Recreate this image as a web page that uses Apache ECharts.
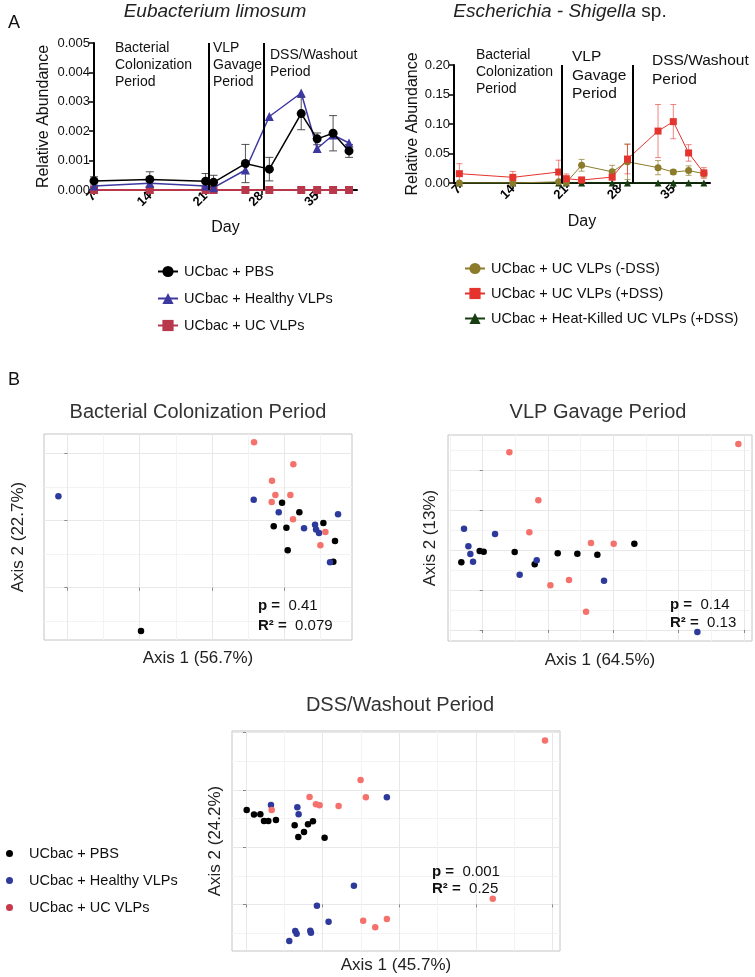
<!DOCTYPE html>
<html><head><meta charset="utf-8">
<script src="https://cdn.jsdelivr.net/npm/echarts@6/dist/echarts.min.js"></script>
<style>html,body{margin:0;padding:0;background:#fff}#c{width:755px;height:977px}</style>
</head><body><div id="c"></div>
<script>
// ---------- Panel A (left): Eubacterium limosum ----------
const daysEL = [7, 14, 21, 22, 26, 29, 33, 35, 37, 39];
const elPBS = [0.00031, 0.00036, 0.00030, 0.00026, 0.00090, 0.00071, 0.00260, 0.00174, 0.00193, 0.00133];
const elPBSErr = [0.00014, 0.00026, 0.00026, 0.00024, 0.00065, 0.00040, 0.00055, 0.00020, 0.00060, 0.00022];
const elHealthy = [0.00014, 0.00023, 0.00014, 0.00008, 0.00068, 0.00250, 0.00330, 0.00141, 0.00187, 0.00160];
const elUC = [0, 0, 0, 0, 0, 0, 0, 0, 0, 0];
const periodLinesEL = [21.4, 28.3];
// ---------- Panel A (right): Escherichia - Shigella sp. ----------
const daysES = [7, 14, 20, 21, 23, 27, 29, 33, 35, 37, 39];
const esMinusDSS = [0, 0, 0.002, 0.001, 0.030, 0.019, 0.036, 0.026, 0.0186, 0.021, 0.016];
const esMinusDSSErr = [0, 0, 0.002, 0.002, 0.010, 0.011, 0.030, 0.012, 0.004, 0.008, 0.006];
const esPlusDSS = [0.0158, 0.0096, 0.0186, 0.0073, 0.005, 0.010, 0.0406, 0.088, 0.104, 0.051, 0.017];
const esPlusDSSErr = [0.017, 0.010, 0.020, 0.008, 0.005, 0.005, 0.025, 0.045, 0.029, 0.014, 0.009];
const esHeatKilled = [0, 0, 0, 0, 0, 0, 0, 0, 0, 0, 0];
const periodLinesES = [20.4, 29.7];
const dayTicks = [7, 14, 21, 28, 35];
// ---------- Panel B: PCoA (Axis 1, Axis 2) ----------
const bcPBS = [[2.968,1.266],[3.207,1.122],[2.853,0.913],[3.028,0.893],[3.539,0.963],[3.700,0.695],[3.046,0.556],[3.677,0.387],[1.018,-0.645]];
const bcHealthy = [[-0.124,1.360],[2.576,1.310],[2.922,1.122],[3.272,0.883],[3.424,0.938],[3.438,0.868],[3.479,0.814],[3.742,1.092],[3.631,0.377]];
const bcUC = [[2.581,2.164],[3.124,1.836],[2.829,1.593],[2.876,1.380],[3.083,1.380],[2.825,1.275],[3.120,1.017],[3.567,0.829],[3.498,0.630]];
const vgPBS = [[-0.327,1.692],[-0.046,1.975],[0.015,1.958],[0.490,1.950],[0.796,1.642],[1.148,1.917],[1.449,1.908],[1.755,1.883],[2.321,2.158]];
const vgHealthy = [[-0.286,2.533],[-0.219,2.092],[-0.189,1.900],[-0.148,1.708],[0.189,2.400],[0.566,1.383],[0.827,1.742],[1.857,1.233],[3.286,-0.050]];
const vgUC = [[0.408,4.442],[3.913,4.650],[0.852,3.242],[0.714,2.442],[1.658,2.175],[2.005,2.158],[1.036,1.117],[1.321,1.250],[1.582,0.458]];
const dwPBS = [[0.009,1.651],[0.104,1.570],[0.187,1.576],[0.235,1.459],[0.291,1.459],[0.391,1.477],[0.635,1.384],[0.809,1.401],[0.874,1.453],[0.757,1.267],[0.683,1.180],[1.026,1.163]];
const dwHealthy = [[0.326,1.738],[0.670,1.698],[0.687,1.576],[1.839,1.872],[1.409,0.326],[0.926,-0.023],[1.078,-0.302],[0.643,-0.465],[0.661,-0.512],[0.839,-0.459],[0.848,-0.494],[0.565,-0.640]];
const dwUC = [[3.904,2.866],[1.496,2.174],[1.565,1.872],[0.830,1.878],[0.913,1.750],[0.961,1.733],[1.209,1.721],[0.335,1.651],[3.222,0.099],[1.530,-0.285],[1.687,-0.401],[1.839,-0.256]];
const statsBC = ['0.41', '0.079'];
const statsVG = ['0.14', '0.13'];
const statsDW = ['0.001', '0.25'];

const FONT = "'Liberation Sans', Arial, Helvetica, sans-serif";
const C = {pbs:'#000000', healthy:'#3d38a0', uc:'#b8374b', minus:'#8c7b2a', plus:'#e5342d', hk:'#173d11',
           sPBS:'#000000', sHealthy:'#2d3a9c', sUC:'#f4726b', lUC:'#c8374a'};
const scatterNames = {PBS:'UCbac + PBS', Healthy:'UCbac + Healthy VLPs', UC:'UCbac + UC VLPs'};

function pairs(xs, ys){ return xs.map((x,i)=>[x, ys[i]]); }
function triples(xs, ys, es){ return xs.map((x,i)=>[x, ys[i], es[i]]); }

function errRender(capHalf, color, width, opacity){
  return function(params, api){
    const x = api.value(0), y = api.value(1), e = api.value(2);
    if (!e) return null;
    const hi = api.coord([x, y + e]), lo = api.coord([x, Math.max(0, y - e)]);
    const style = {stroke: color, lineWidth: width, opacity: opacity, fill: null};
    return {type:'group', children:[
      {type:'line', shape:{x1:hi[0], y1:hi[1], x2:lo[0], y2:lo[1]}, style},
      {type:'line', shape:{x1:hi[0]-capHalf, y1:hi[1], x2:hi[0]+capHalf, y2:hi[1]}, style},
      {type:'line', shape:{x1:lo[0]-capHalf, y1:lo[1], x2:lo[0]+capHalf, y2:lo[1]}, style}
    ]};
  };
}

function lineAxisX(gi, min, max, gap){
  return {type:'value', gridIndex:gi, min, max,
    name:'Day', nameLocation:'middle', nameGap:gap,
    nameTextStyle:{fontSize:16, color:'#111', fontFamily:FONT},
    axisLine:{show:true, onZero:false, lineStyle:{color:'#000', width:2}},
    axisTick:{show:true, inside:false, length:5, customValues:dayTicks, lineStyle:{color:'#000', width:1.5}},
    axisLabel:{rotate:45, fontSize:13, fontWeight:'bold', color:'#000', fontFamily:FONT, margin:4, customValues:dayTicks},
    splitLine:{show:false}};
}
function lineAxisY(gi, max, interval, digits, gap){
  return {type:'value', gridIndex:gi, min:0, max, interval,
    name:'Relative Abundance', nameLocation:'middle', nameGap:gap,
    nameTextStyle:{fontSize:16, color:'#111', fontFamily:FONT},
    axisLine:{show:true, lineStyle:{color:'#000', width:2}},
    axisTick:{show:true, length:5, lineStyle:{color:'#000', width:1.5}},
    axisLabel:{fontSize:13, color:'#111', fontFamily:FONT, margin:4, formatter:v=>v.toFixed(digits)},
    splitLine:{show:false}};
}
function scAxis(gi, min, max, ticks, name, gap){
  return {type:'value', gridIndex:gi, min, max, minInterval:1, maxInterval:1,
    name, nameLocation:'middle', nameGap:gap,
    nameTextStyle:{fontSize:17, color:'#222', fontFamily:FONT},
    axisLine:{show:false},
    axisTick:{show:true, length:3, customValues:ticks, lineStyle:{color:'#888'}},
    axisLabel:{show:false},
    splitLine:{show:true, lineStyle:{color:'#e8e8e8', width:1}},
    minorTick:{show:false, splitNumber:2},
    minorSplitLine:{show:true, lineStyle:{color:'#f3f3f3', width:1}}};
}
function scSeries(name, gi, data, color){
  return {type:'scatter', name, xAxisIndex:gi, yAxisIndex:gi, data, symbolSize:6.5,
    itemStyle:{color, opacity:1}, z:3};
}
function stats(x, y, p, r, gap){
  const rich = {b:{fontWeight:'bold', fontSize:15, fontFamily:FONT, fill:'#111'}};
  return [
    {type:'text', x:x, y:y, z:10, style:{text:'{b|p =}  ' + p, rich, fontSize:15, fontFamily:FONT, fill:'#111', verticalAlign:'middle'}},
    {type:'text', x:x, y:y+gap, z:10, style:{text:'{b|R\u00b2 =}  ' + r, rich, fontSize:15, fontFamily:FONT, fill:'#111', verticalAlign:'middle'}}
  ];
}
function txt(x, y, s, size, extra){
  return {type:'text', x:x, y:y, style:Object.assign({text:s, fontSize:size, fontFamily:FONT, fill:'#111'}, extra||{})};
}
function ctxt(x, y, s, size, extra){
  return {type:'text', x:x, y:y, style:Object.assign({text:s, fontSize:size, fontFamily:FONT, fill:'#222', align:'center', verticalAlign:'middle'}, extra||{})};
}

const option = {
  backgroundColor:'#fff',
  animation:false,
  textStyle:{fontFamily:FONT},
  grid:[
    {left:94, top:43, width:263, height:147},
    {left:454, top:65, width:256, height:118},
    {left:44, top:434, width:308, height:206, show:true, borderColor:'#c4c4c4', borderWidth:1, backgroundColor:'#fff'},
    {left:448, top:435, width:304, height:206, show:true, borderColor:'#c4c4c4', borderWidth:1, backgroundColor:'#fff'},
    {left:232, top:731, width:328, height:220, show:true, borderColor:'#c4c4c4', borderWidth:1, backgroundColor:'#fff'}
  ],
  xAxis:[
    lineAxisX(0, 7, 40, 30),
    lineAxisX(1, 6.3, 39.8, 31),
    scAxis(2, -0.323, 3.935, [0,1,2,3], 'Axis 1 (56.7%)', 10),
    scAxis(3, -0.531, 4.122, [0,1,2,3,4], 'Axis 1 (64.5%)', 11),
    scAxis(4, -0.183, 4.1, [0,1,2,3,4], 'Axis 1 (45.7%)', 6)
  ],
  yAxis:[
    lineAxisY(0, 0.005, 0.001, 3, 42),
    lineAxisY(1, 0.2, 0.05, 2, 32),
    scAxis(2, -0.779, 2.288, [0,1,2], 'Axis 2 (22.7%)', 17),
    scAxis(3, -0.275, 4.875, [0,1,2,3,4], 'Axis 2 (13%)', 9),
    scAxis(4, -0.814, 3.03, [0,1,2,3], 'Axis 2 (24.2%)', 8)
  ],
  legend:[
    {data:['UCbac + PBS','UCbac + Healthy VLPs','UCbac + UC VLPs'], orient:'vertical', left:152, top:259,
     itemWidth:20, itemHeight:14, itemGap:12, selectedMode:false,
     textStyle:{fontSize:14.5, color:'#111', fontFamily:FONT, lineHeight:14, padding:[0,0,0,1]}},
    {data:['UCbac + UC VLPs (-DSS)','UCbac + UC VLPs (+DSS)','UCbac + Heat-Killed UC VLPs (+DSS)'], orient:'vertical', left:459, top:256,
     itemWidth:20, itemHeight:14, itemGap:10, selectedMode:false,
     textStyle:{fontSize:14.5, color:'#111', fontFamily:FONT, lineHeight:14, padding:[0,0,0,1]}},
    {data:[{name:'PBS', itemStyle:{color:C.sPBS}}, {name:'Healthy', itemStyle:{color:C.sHealthy}}, {name:'UC', itemStyle:{color:C.lUC}}],
     orient:'vertical', left:1, top:841, icon:'circle', itemWidth:7, itemHeight:7, itemGap:12, selectedMode:false,
     formatter:n=>scatterNames[n],
     textStyle:{fontSize:14.5, color:'#111', fontFamily:FONT, lineHeight:14, padding:[0,0,0,11]}}
  ],
  series:[
    // ----- left line chart -----
    {type:'custom', name:'errPBS', xAxisIndex:0, yAxisIndex:0, data:triples(daysEL, elPBS, elPBSErr),
     encode:{x:0, y:1}, renderItem:errRender(4, '#333', 1, 0.85), z:1, silent:true},
    {type:'line', name:'UCbac + UC VLPs', xAxisIndex:0, yAxisIndex:0, data:pairs(daysEL, elUC),
     symbol:'rect', symbolSize:8, lineStyle:{color:C.uc, width:2}, itemStyle:{color:C.uc}, z:2},
    {type:'line', name:'UCbac + Healthy VLPs', xAxisIndex:0, yAxisIndex:0, data:pairs(daysEL, elHealthy),
     symbol:'triangle', symbolSize:9, lineStyle:{color:C.healthy, width:1.5}, itemStyle:{color:C.healthy}, z:3},
    {type:'line', name:'UCbac + PBS', xAxisIndex:0, yAxisIndex:0, data:pairs(daysEL, elPBS),
     symbol:'circle', symbolSize:9, lineStyle:{color:C.pbs, width:1.5}, itemStyle:{color:C.pbs}, z:4,
     markLine:{silent:true, symbol:'none', label:{show:false}, lineStyle:{color:'#000', width:2, type:'solid'},
       data:periodLinesEL.map(x=>({xAxis:x}))}},
    // ----- right line chart -----
    {type:'custom', name:'errMinus', xAxisIndex:1, yAxisIndex:1, data:triples(daysES, esMinusDSS, esMinusDSSErr),
     encode:{x:0, y:1}, renderItem:errRender(3, C.minus, 1, 0.7), z:1, silent:true},
    {type:'custom', name:'errPlus', xAxisIndex:1, yAxisIndex:1, data:triples(daysES, esPlusDSS, esPlusDSSErr),
     encode:{x:0, y:1}, renderItem:errRender(3, C.plus, 1, 0.6), z:1, silent:true},
    {type:'line', name:'UCbac + Heat-Killed UC VLPs (+DSS)', xAxisIndex:1, yAxisIndex:1, data:pairs(daysES, esHeatKilled),
     symbol:'triangle', symbolSize:7, lineStyle:{color:C.hk, width:1.5}, itemStyle:{color:C.hk}, z:2,
     markLine:{silent:true, symbol:'none', label:{show:false}, lineStyle:{color:'#000', width:2, type:'solid'},
       data:periodLinesES.map(x=>({xAxis:x}))}},
    {type:'line', name:'UCbac + UC VLPs (-DSS)', xAxisIndex:1, yAxisIndex:1, data:pairs(daysES, esMinusDSS),
     symbol:'circle', symbolSize:7, lineStyle:{color:C.minus, width:1}, itemStyle:{color:C.minus}, z:3},
    {type:'line', name:'UCbac + UC VLPs (+DSS)', xAxisIndex:1, yAxisIndex:1, data:pairs(daysES, esPlusDSS),
     symbol:'rect', symbolSize:7, lineStyle:{color:C.plus, width:1}, itemStyle:{color:C.plus}, z:4},
    // ----- scatter panels -----
    scSeries('PBS', 2, bcPBS, C.sPBS), scSeries('Healthy', 2, bcHealthy, C.sHealthy), scSeries('UC', 2, bcUC, C.sUC),
    scSeries('PBS', 3, vgPBS, C.sPBS), scSeries('Healthy', 3, vgHealthy, C.sHealthy), scSeries('UC', 3, vgUC, C.sUC),
    scSeries('PBS', 4, dwPBS, C.sPBS), scSeries('Healthy', 4, dwHealthy, C.sHealthy), scSeries('UC', 4, dwUC, C.sUC)
  ],
  graphic:[
    txt(8, 14, 'A', 18),
    txt(8, 371, 'B', 18),
    ctxt(215, 12, 'Eubacterium limosum', 19, {fontStyle:'italic'}),
    ctxt(560, 12, '{i|Escherichia - Shigella} sp.', 19, {rich:{i:{fontStyle:'italic', fontSize:19, fontFamily:FONT, fill:'#222'}}}),
    txt(115, 40, 'Bacterial\nColonization\nPeriod', 14, {lineHeight:16.7}),
    txt(213, 40, 'VLP\nGavage\nPeriod', 14, {lineHeight:16.7}),
    txt(270, 47, 'DSS/Washout\nPeriod', 14, {lineHeight:17}),
    txt(476, 47, 'Bacterial\nColonization\nPeriod', 14, {lineHeight:16.8}),
    txt(572, 48, 'VLP\nGavage\nPeriod', 15.5, {lineHeight:18.2}),
    txt(652, 52, 'DSS/Washout\nPeriod', 15.5, {lineHeight:18.3}),
    ctxt(198, 412, 'Bacterial Colonization Period', 20, {fill:'#333'}),
    ctxt(598, 412, 'VLP Gavage Period', 20, {fill:'#333'}),
    ctxt(400, 705, 'DSS/Washout Period', 20, {fill:'#333'}),
    ...stats(258, 606, statsBC[0], statsBC[1], 20),
    ...stats(670, 605, statsVG[0], statsVG[1], 18),
    ...stats(432, 872, statsDW[0], statsDW[1], 17)
  ]
};
const chart = echarts.init(document.getElementById('c'));
chart.setOption(option);
</script></body></html>
